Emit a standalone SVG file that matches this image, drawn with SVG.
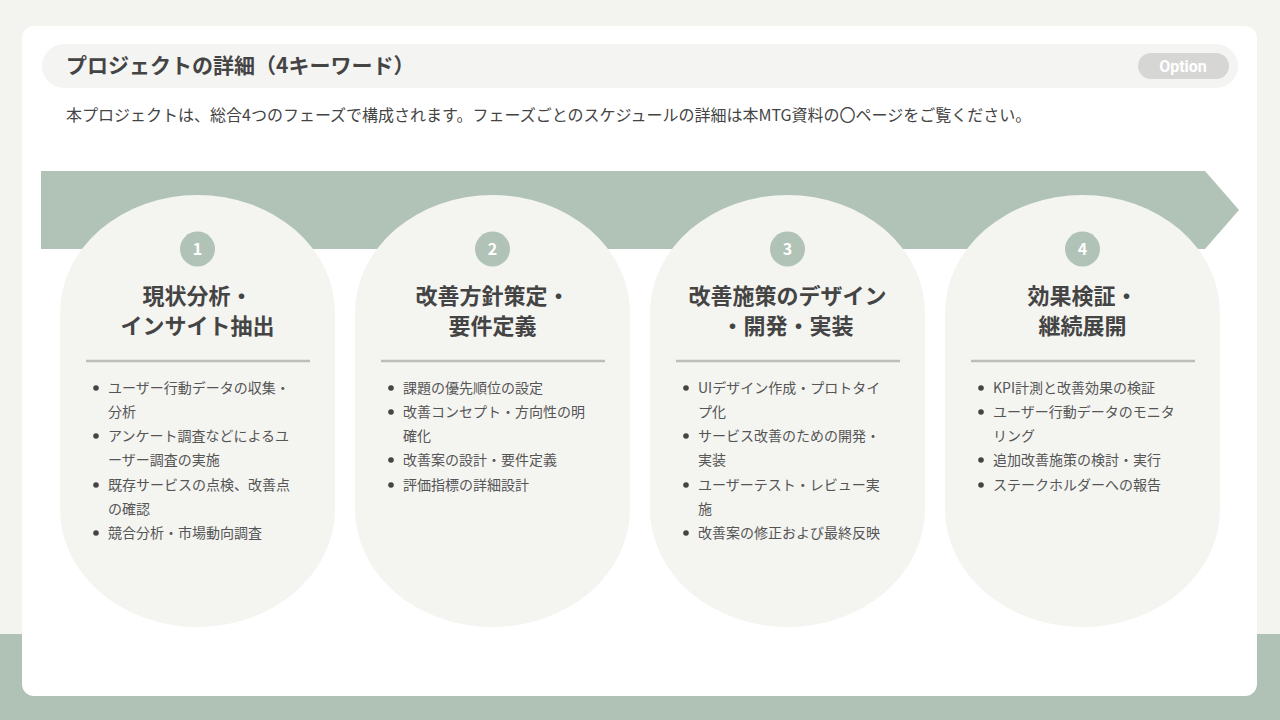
<svg xmlns="http://www.w3.org/2000/svg" width="1280" height="720" viewBox="0 0 1280 720">
<style>
text{font-family:"Noto Sans CJK JP","Noto Sans",sans-serif;}
.ttl{font-size:21px;font-weight:700;fill:#444444;}
.desc{font-size:16px;fill:#444444;}
.pill{fill:#f4f4f1;}
.num{fill:#b0c3b6;}
.numt{font-size:16px;font-weight:700;fill:#ffffff;text-anchor:middle;}
.ph{font-size:22px;font-weight:700;fill:#444444;text-anchor:middle;}
.div{stroke:#bdbdbb;stroke-width:2.5;}
.bt{font-size:14px;fill:#555555;}
.dot{fill:#444444;}
</style>
<rect x="0" y="0" width="1280" height="720" fill="#f3f4f0"/>
<rect x="0" y="634" width="1280" height="86" fill="#b0c2b5"/>
<rect x="22" y="26" width="1235" height="670" rx="12" fill="#ffffff"/>
<g id="header">
<rect x="42" y="44" width="1196" height="44" rx="22" fill="#f4f4f2"/>
<text class="ttl" x="66" y="73">プロジェクトの詳細（4キーワード）</text>
<rect x="1138" y="53" width="91" height="26" rx="13" fill="#d6d6d5"/>
<text x="1183" y="71.5" font-size="16" font-weight="700" fill="#ffffff" text-anchor="middle" style="font-family:Roboto,'Noto Sans',sans-serif">Option</text>
</g>
<text class="desc" x="66" y="121">本プロジェクトは、総合4つのフェーズで構成されます。フェーズごとのスケジュールの詳細は本MTG資料の〇ページをご覧ください。</text>
<g id="band">
<path d="M41,171 H1205 L1239,210 L1205,249 H41 Z" fill="#b0c3b6"/>
</g>
<g id="phase1">
<rect class="pill" x="60" y="195" width="275" height="432" rx="137.5" ry="118"/>
<circle class="num" cx="197.5" cy="249" r="17.5"/>
<text class="numt" x="197.5" y="255">1</text>
<text class="ph" x="197.5" y="304">現状分析・</text>
<text class="ph" x="197.5" y="334">インサイト抽出</text>
<line class="div" x1="86" y1="361" x2="310" y2="361"/>
<circle class="dot" cx="96" cy="388" r="2.8"/><text class="bt" x="108" y="393">ユーザー行動データの収集・</text>
<text class="bt" x="108" y="417">分析</text>
<circle class="dot" cx="96" cy="436" r="2.8"/><text class="bt" x="108" y="441">アンケート調査などによるユ</text>
<text class="bt" x="108" y="465">ーザー調査の実施</text>
<circle class="dot" cx="96" cy="485" r="2.8"/><text class="bt" x="108" y="490">既存サービスの点検、改善点</text>
<text class="bt" x="108" y="514">の確認</text>
<circle class="dot" cx="96" cy="533" r="2.8"/><text class="bt" x="108" y="538">競合分析・市場動向調査</text>
</g>
<g id="phase2">
<rect class="pill" x="355" y="195" width="275" height="432" rx="137.5" ry="118"/>
<circle class="num" cx="492.5" cy="249" r="17.5"/>
<text class="numt" x="492.5" y="255">2</text>
<text class="ph" x="492.5" y="304">改善方針策定・</text>
<text class="ph" x="492.5" y="334">要件定義</text>
<line class="div" x1="381" y1="361" x2="605" y2="361"/>
<circle class="dot" cx="391" cy="388" r="2.8"/><text class="bt" x="403" y="393">課題の優先順位の設定</text>
<circle class="dot" cx="391" cy="412" r="2.8"/><text class="bt" x="403" y="417">改善コンセプト・方向性の明</text>
<text class="bt" x="403" y="441">確化</text>
<circle class="dot" cx="391" cy="460" r="2.8"/><text class="bt" x="403" y="465">改善案の設計・要件定義</text>
<circle class="dot" cx="391" cy="485" r="2.8"/><text class="bt" x="403" y="490">評価指標の詳細設計</text>
</g>
<g id="phase3">
<rect class="pill" x="650" y="195" width="275" height="432" rx="137.5" ry="118"/>
<circle class="num" cx="787.5" cy="249" r="17.5"/>
<text class="numt" x="787.5" y="255">3</text>
<text class="ph" x="787.5" y="304">改善施策のデザイン</text>
<text class="ph" x="787.5" y="334">・開発・実装</text>
<line class="div" x1="676" y1="361" x2="900" y2="361"/>
<circle class="dot" cx="686" cy="388" r="2.8"/><text class="bt" x="698" y="393">UIデザイン作成・プロトタイ</text>
<text class="bt" x="698" y="417">プ化</text>
<circle class="dot" cx="686" cy="436" r="2.8"/><text class="bt" x="698" y="441">サービス改善のための開発・</text>
<text class="bt" x="698" y="465">実装</text>
<circle class="dot" cx="686" cy="485" r="2.8"/><text class="bt" x="698" y="490">ユーザーテスト・レビュー実</text>
<text class="bt" x="698" y="514">施</text>
<circle class="dot" cx="686" cy="533" r="2.8"/><text class="bt" x="698" y="538">改善案の修正および最終反映</text>
</g>
<g id="phase4">
<rect class="pill" x="945" y="195" width="275" height="432" rx="137.5" ry="118"/>
<circle class="num" cx="1082.5" cy="249" r="17.5"/>
<text class="numt" x="1082.5" y="255">4</text>
<text class="ph" x="1082.5" y="304">効果検証・</text>
<text class="ph" x="1082.5" y="334">継続展開</text>
<line class="div" x1="971" y1="361" x2="1195" y2="361"/>
<circle class="dot" cx="981" cy="388" r="2.8"/><text class="bt" x="993" y="393">KPI計測と改善効果の検証</text>
<circle class="dot" cx="981" cy="412" r="2.8"/><text class="bt" x="993" y="417">ユーザー行動データのモニタ</text>
<text class="bt" x="993" y="441">リング</text>
<circle class="dot" cx="981" cy="460" r="2.8"/><text class="bt" x="993" y="465">追加改善施策の検討・実行</text>
<circle class="dot" cx="981" cy="485" r="2.8"/><text class="bt" x="993" y="490">ステークホルダーへの報告</text>
</g>
<g id="connectors"></g>
</svg>
